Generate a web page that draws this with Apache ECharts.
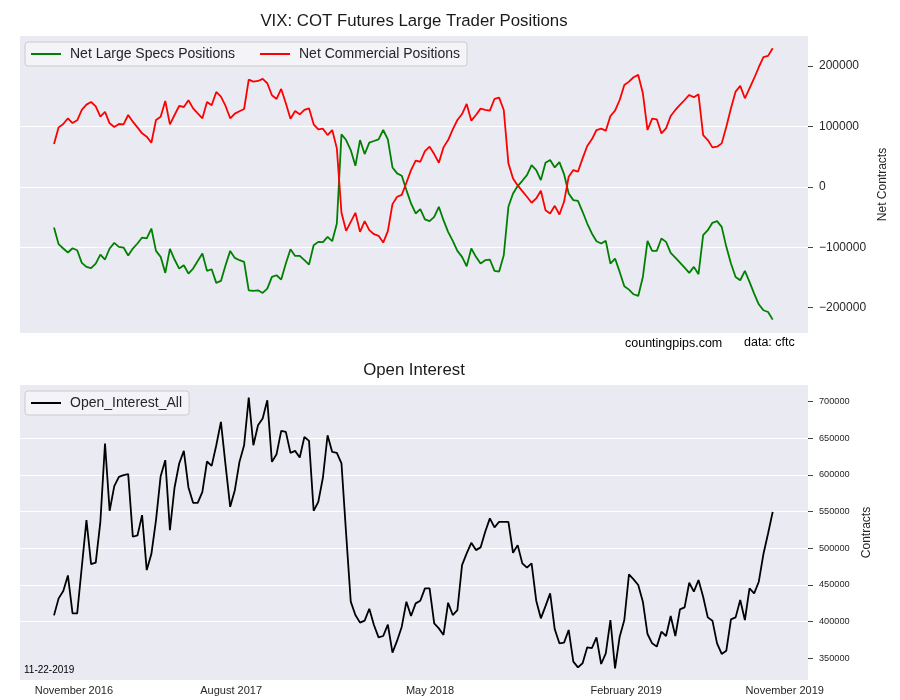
<!DOCTYPE html>
<html>
<head>
<meta charset="utf-8">
<script src="https://cdn.jsdelivr.net/npm/echarts@6/dist/echarts.min.js"></script>
<style>
html,body{margin:0;padding:0;background:#fff;}
#chart{width:900px;height:700px;}
</style>
</head>
<body>
<div id="chart"></div>
<script>
// Weekly observations, index 0 = first week (Nov 2016) ... last = 11-22-2019
var netSpecs = [
-67400,-95000,-102200,-108800,-101700,-105000,-126000,-132600,-134800,-127100,
-112200,-120400,-102200,-92800,-99400,-100600,-113800,-102200,-93900,-84000,
-85600,-69100,-106100,-116000,-142500,-102800,-120400,-135400,-129800,-143600,
-135400,-122700,-110500,-139200,-136500,-159100,-155800,-129800,-106100,-117700,
-121500,-124300,-171300,-172400,-171300,-175700,-168500,-149200,-146400,-153600,
-127100,-103300,-114400,-114400,-121500,-128700,-96700,-91200,-91700,-82900,
-90100,-60800,86700,77300,60800,34800,77300,54100,72900,75700,
78500,93900,78500,32000,22100,18200,-5500,-27600,-44200,-37000,
-54100,-56900,-49700,-33200,-55300,-74600,-89500,-106100,-116000,-131500,
-102200,-116000,-127100,-121500,-120400,-139200,-140300,-113300,-33200,-11100,
1100,9900,19300,35900,27600,11000,39800,44200,32000,40900,
21000,-11100,-22100,-23200,-41400,-60800,-77300,-90100,-93900,-89500,
-127100,-118800,-140900,-164600,-170200,-177900,-180700,-149200,-89500,-106100,
-106100,-85600,-91200,-109400,-117100,-125400,-133700,-142500,-132600,-144800,
-80100,-71800,-59700,-56900,-66300,-99400,-127100,-149200,-154700,-139200,
-157500,-176800,-194500,-204400,-207200,-219900
];
var netCommercial = [
70700,98300,103900,113300,105500,110000,127100,135900,140300,133100,
116000,123800,105000,98900,103900,103300,118800,107700,98300,88400,
82900,72900,110500,116000,142000,103300,118800,133700,132000,143100,
129800,121500,113300,140300,134800,156900,149200,133700,113300,121000,
124900,128700,177300,174000,175100,178500,171300,151400,145300,161900,
138100,112700,125400,119900,127100,129800,103300,95000,96100,85600,
93900,63500,-43100,-72900,-58000,-43100,-74600,-56900,-71800,-78500,
-81200,-92300,-73500,-28700,-16600,-13300,6600,27600,43100,41400,
59100,66300,54100,39800,65200,77300,95000,110500,120400,137000,
109400,118800,129300,127100,126000,145300,147500,127100,38700,13800,
2200,-7200,-16600,-26500,-19300,-6600,-38700,-44200,-31500,-45900,
-24900,16600,27600,24900,47000,67400,78500,93900,96100,92800,
117100,126000,143600,168500,174000,181200,185100,154700,93900,112700,
111600,88400,96700,117100,127100,135400,143600,151900,148100,153000,
85600,77300,65200,66300,71800,99400,129800,157500,166900,146400,
163000,179600,197800,214400,216600,229300
];
var openInterest = [
408500,431700,441700,463000,411300,411300,474800,538400,478400,480300,
536100,642800,551100,584700,597400,599700,601000,515700,517500,545200,
470300,492100,538400,598300,620100,524800,582900,615600,632800,582900,
562000,562000,577000,618300,612400,640500,672300,613300,556500,579200,
617800,640500,705400,640500,667800,676800,701800,617800,628300,660000,
658700,630100,632800,623700,651900,646400,551100,563300,596500,654100,
631400,630100,615600,520200,427200,409000,398600,401300,417600,395400,
378600,380400,395800,357700,374000,393100,427200,407600,424900,428500,
445300,445300,397600,390800,381800,425800,409000,415800,477100,493000,
507500,497500,501200,522500,540700,528400,536100,536100,536100,493900,
504300,479400,473500,479400,428500,404500,421200,438500,389500,370400,
371300,388600,345500,337700,343200,364900,364000,378600,342200,356800,
402200,336300,379500,402200,464400,457600,449900,427200,383100,370400,
365900,386300,380400,407600,380400,416700,419400,453000,440800,456700,
434000,405800,401300,370400,355900,360400,403100,405800,429400,402200,
445300,438500,454400,492100,520200,549700
];
var xTickLabels = ['November 2016','August 2017','May 2018','February 2019','November 2019'];
var xTickIndex = [4.3, 38.2, 81.1, 123.4, 157.6];
var topTicks = [-200000,-100000,0,100000,200000];
var bottomTicks = [350000,400000,450000,500000,550000,600000,650000,700000];

function pairs(arr){ return arr.map(function(v,i){ return [i,v]; }); }
var N = netSpecs.length;
var pxPerIdx = (772.7-54)/(N-1);
var xMin = -(54-20)/pxPerIdx;
var xMax = (N-1) + (808-772.7)/pxPerIdx;

var FONT = '"Liberation Sans", Arial, "DejaVu Sans", sans-serif';
function fmtNum(v){ return (v<0?'\u2212':'') + Math.abs(Math.round(v)); }

var chart = echarts.init(document.getElementById('chart'), null, {renderer:'canvas'});
var legendCommon = {
  orient:'horizontal', itemWidth:30, itemHeight:12, itemGap:24,
  padding:[5,7,5,5],
  itemStyle:{opacity:0},
  lineStyle:{width:2, opacity:1},
  backgroundColor:'rgba(255,255,255,0.45)', borderColor:'#cccccc', borderWidth:1, borderRadius:3,
  textStyle:{fontSize:14, color:'#262626', fontFamily:FONT, padding:[0,0,0,4]}
};
var option = {
  animation: false,
  backgroundColor: '#ffffff',
  textStyle: {fontFamily: FONT},
  grid: [
    {left:20, right:92, top:36, height:297, show:true, backgroundColor:'#EAEAF2', borderWidth:0, containLabel:false},
    {left:20, right:92, top:385, height:295, show:true, backgroundColor:'#EAEAF2', borderWidth:0, containLabel:false}
  ],
  legend: [
    Object.assign({left:25, top:42, data:['Net Large Specs Positions','Net Commercial Positions']}, legendCommon),
    Object.assign({left:25, top:391, data:['Open_Interest_All']}, legendCommon)
  ],
  xAxis: [
    {type:'value', gridIndex:0, min:xMin, max:xMax, axisLine:{show:false, onZero:false}, axisTick:{show:false}, axisLabel:{show:false}, splitLine:{show:false}},
    {type:'value', gridIndex:1, min:xMin, max:xMax, axisLine:{show:false, onZero:false}, axisTick:{show:false}, splitLine:{show:false},
     axisLabel:{show:true, customValues:xTickIndex, margin:5, fontSize:11, color:'#262626', fontFamily:FONT,
       formatter:function(v){ var best=0,d=1e9; for(var k=0;k<xTickIndex.length;k++){var dd=Math.abs(xTickIndex[k]-v); if(dd<d){d=dd;best=k;}} return xTickLabels[best]; }}}
  ],
  yAxis: [
    {type:'value', gridIndex:0, position:'right', min:-242000, max:249500,
     name:'Net Contracts', nameLocation:'middle', nameGap:58, nameRotate:90,
     nameTextStyle:{fontSize:12, color:'#262626', fontFamily:FONT},
     axisLine:{show:false, onZero:false},
     axisTick:{show:true, customValues:topTicks, length:5, lineStyle:{color:'#444', width:1}},
     axisLabel:{customValues:topTicks, margin:11, fontSize:12, color:'#262626', fontFamily:FONT, formatter:fmtNum},
     splitLine:{show:true, showMinLine:false, showMaxLine:false, lineStyle:{color:'#ffffff', width:1}}},
    {type:'value', gridIndex:1, position:'right', min:320400, max:722600,
     name:'Contracts', nameLocation:'middle', nameGap:42, nameRotate:90,
     nameTextStyle:{fontSize:12, color:'#262626', fontFamily:FONT},
     axisLine:{show:false, onZero:false},
     axisTick:{show:true, customValues:bottomTicks, length:5, lineStyle:{color:'#444', width:1}},
     axisLabel:{customValues:bottomTicks, margin:11, fontSize:9.2, color:'#262626', fontFamily:FONT, formatter:fmtNum},
     splitLine:{show:true, showMinLine:false, showMaxLine:false, lineStyle:{color:'#ffffff', width:1}}}
  ],
  series: [
    {name:'Net Large Specs Positions', type:'line', xAxisIndex:0, yAxisIndex:0, data:pairs(netSpecs), symbol:'none', lineStyle:{color:'#008000', width:1.8}, itemStyle:{color:'#008000'}},
    {name:'Net Commercial Positions', type:'line', xAxisIndex:0, yAxisIndex:0, data:pairs(netCommercial), symbol:'none', lineStyle:{color:'#ff0000', width:1.8}, itemStyle:{color:'#ff0000'}},
    {name:'Open_Interest_All', type:'line', xAxisIndex:1, yAxisIndex:1, data:pairs(openInterest), symbol:'none', lineStyle:{color:'#000000', width:1.8}, itemStyle:{color:'#000000'}}
  ],
  graphic: [
    {type:'text', x:414, y:21, style:{text:'VIX: COT Futures Large Trader Positions', fill:'#1a1a1a', font:'16.8px '+FONT, textAlign:'center', textVerticalAlign:'middle'}},
    {type:'text', x:414, y:370, style:{text:'Open Interest', fill:'#1a1a1a', font:'16.8px '+FONT, textAlign:'center', textVerticalAlign:'middle'}},
    {type:'text', x:625, y:344, style:{text:'countingpips.com', fill:'#000', font:'12.5px '+FONT, textAlign:'left', textVerticalAlign:'middle'}},
    {type:'text', x:744, y:343, style:{text:'data: cftc', fill:'#000', font:'12.5px '+FONT, textAlign:'left', textVerticalAlign:'middle'}},
    {type:'text', x:24, y:670, z:10, style:{text:'11-22-2019', fill:'#000', font:'10px '+FONT, textAlign:'left', textVerticalAlign:'middle'}}
  ]
};
chart.setOption(option);
</script>
</body>
</html>
